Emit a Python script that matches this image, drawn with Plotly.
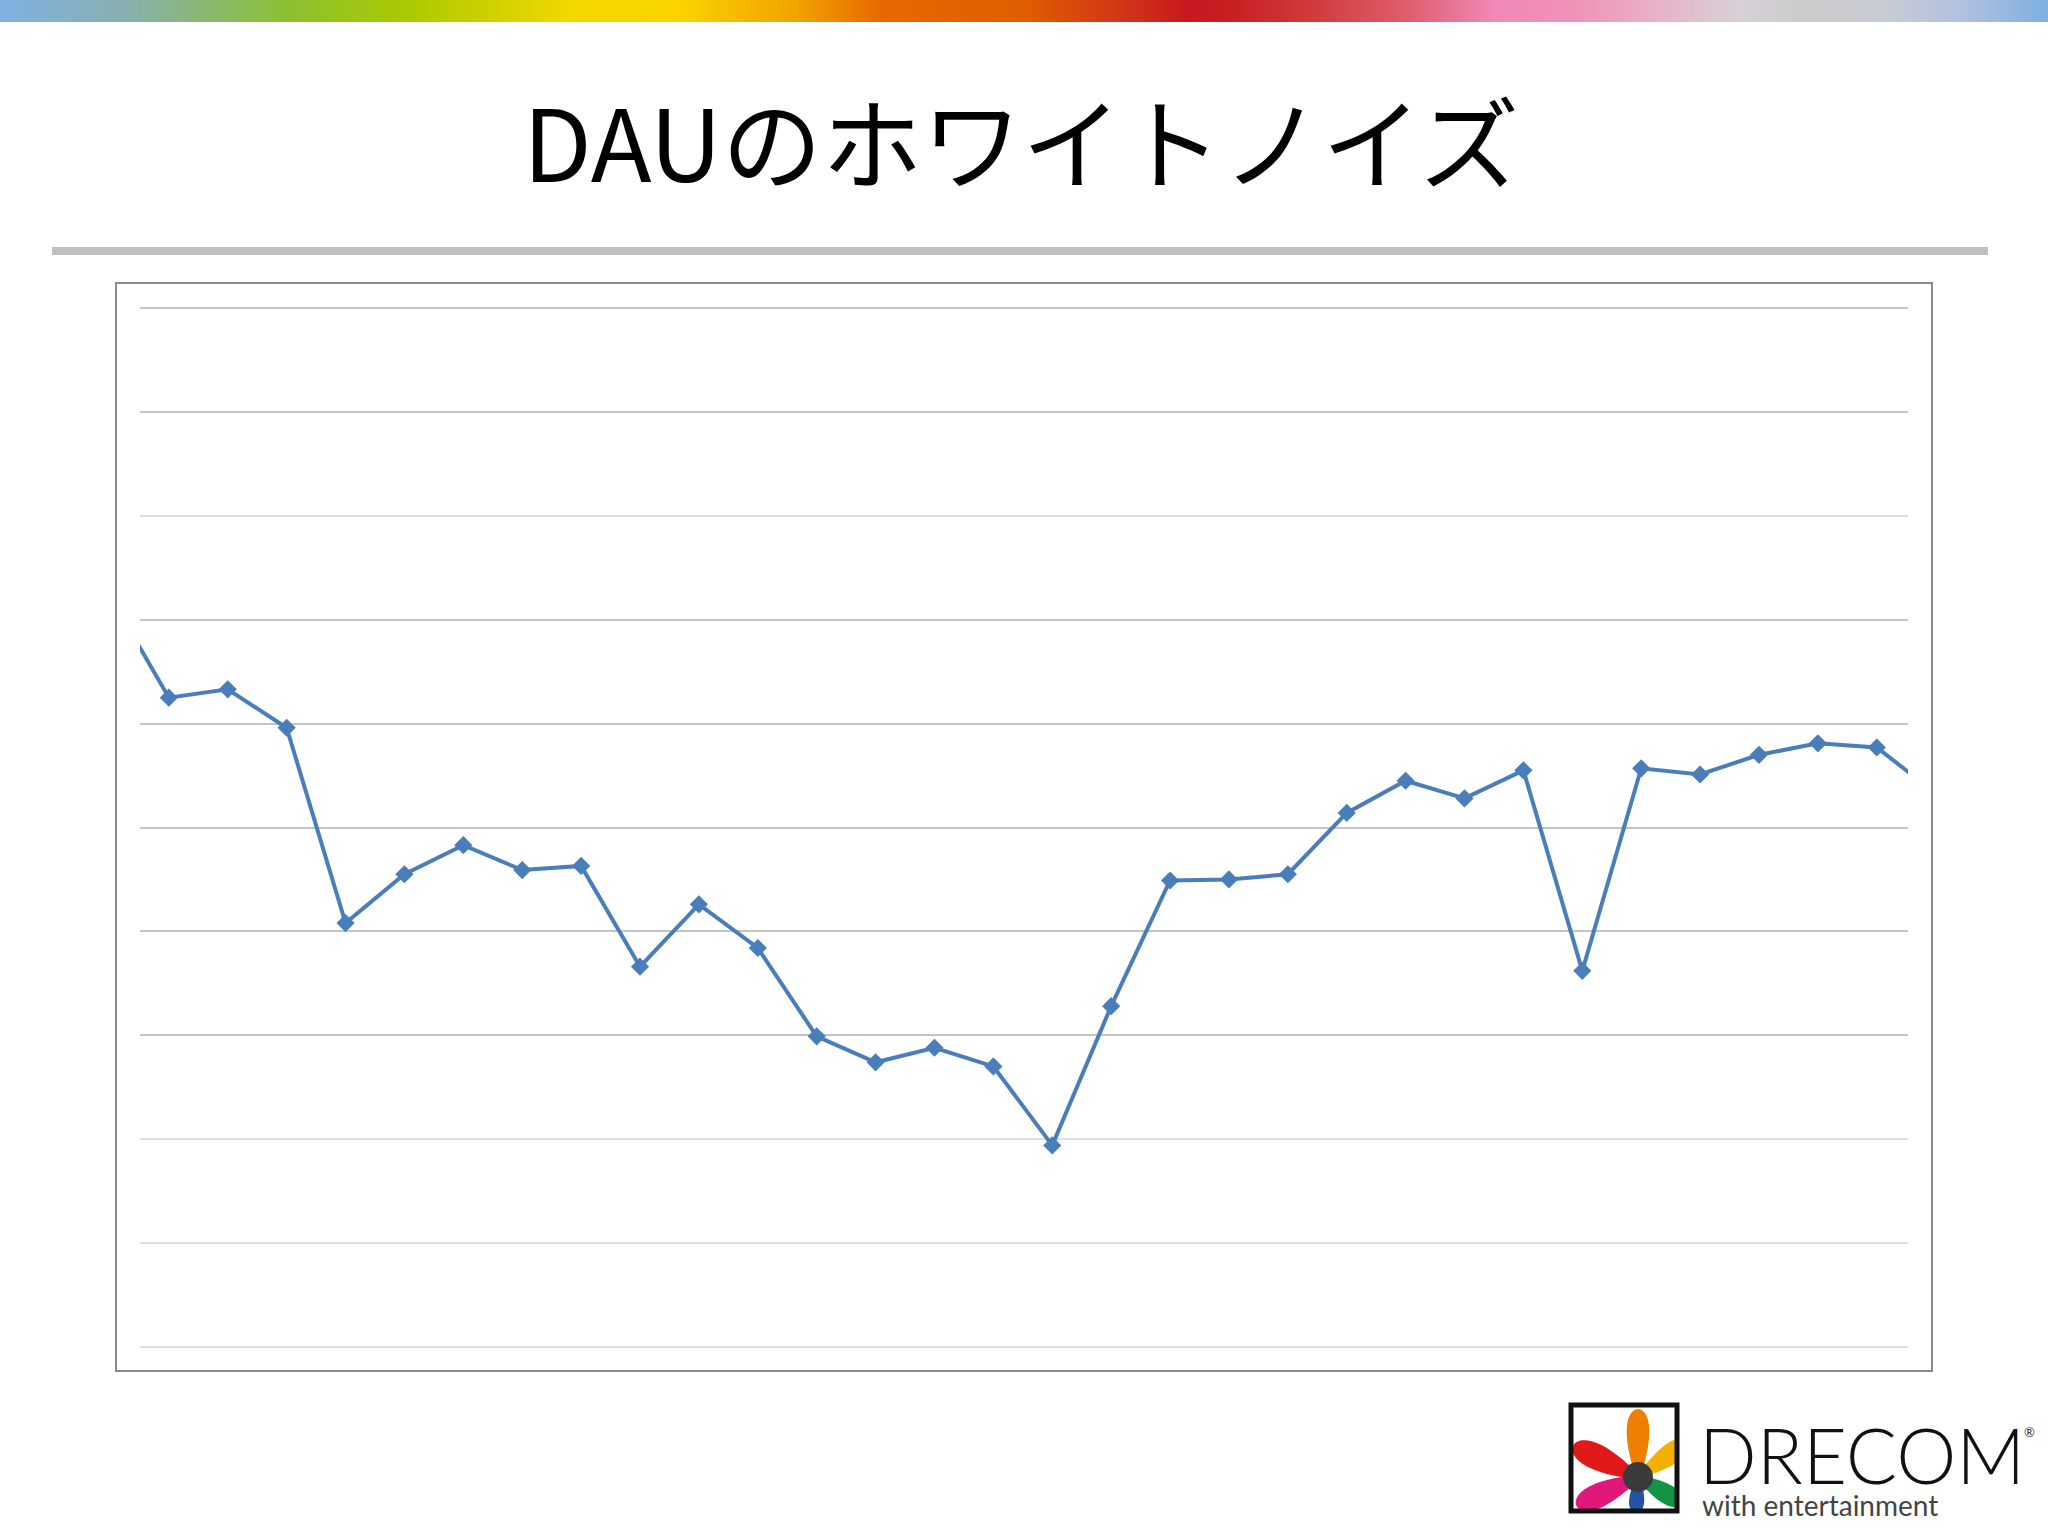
import numpy as np
import plotly.graph_objects as go

# ---- data (unlabeled axis, gridline units) ----
day_index = list(range(-1, 31))
dau_values = [7.23, 6.25, 6.33, 5.96, 4.08, 4.55, 4.83, 4.59, 4.63, 3.66,
              4.26, 3.84, 2.99, 2.74, 2.88, 2.70, 1.94, 3.28, 4.49, 4.50,
              4.55, 5.14, 5.45, 5.28, 5.55, 3.62, 5.57, 5.51, 5.70, 5.81,
              5.77, 5.33]
grid_dark = [3, 4, 5, 6, 7, 9, 10]
grid_light = [0, 1, 2, 8]
title_text = "DAUのホワイトノイズ"

W, H = 2048, 1536
def px(x): return x / W
def py(y): return 1 - y / H

LINE_BLUE = "#4a7ebb"

fig = go.Figure()

# main series
fig.add_trace(go.Scatter(
    x=day_index, y=dau_values, mode="lines+markers",
    line=dict(color=LINE_BLUE, width=4),
    marker=dict(symbol="diamond", size=14, color=LINE_BLUE),
    hoverinfo="skip", showlegend=False, xaxis="x", yaxis="y"))
# helper trace for lighter gridlines
fig.add_trace(go.Scatter(x=[None], y=[None], xaxis="x", yaxis="y3",
                         showlegend=False, hoverinfo="skip"))

# rainbow bar on top
bar_colors = [
    [0.00, "#80b0e0"], [0.06, "#88b0b0"], [0.14, "#8cc030"], [0.20, "#acca00"],
    [0.28, "#f4d800"], [0.33, "#fbd400"], [0.39, "#f0a000"], [0.43, "#e86800"],
    [0.50, "#e05e00"], [0.55, "#d03418"], [0.58, "#c8181f"], [0.60, "#c81e22"],
    [0.64, "#d03a3a"], [0.69, "#e06070"], [0.73, "#f088b8"], [0.77, "#f092b8"],
    [0.81, "#e8b2c8"], [0.85, "#d8d0d8"], [0.88, "#cccccc"], [0.92, "#c8ccd4"],
    [0.96, "#b0c0e0"], [1.00, "#80b0e0"]]
N = 300
fig.add_trace(go.Heatmap(z=[list(range(N))], colorscale=bar_colors,
                         zsmooth="best", showscale=False, hoverinfo="skip",
                         xaxis="x2", yaxis="y2"))

shapes = []
# chart box
shapes.append(dict(type="rect", xref="paper", yref="paper",
                   x0=px(116), x1=px(1932), y0=py(1371), y1=py(283),
                   line=dict(color="#8a8a8a", width=2), fillcolor="rgba(0,0,0,0)",
                   layer="below"))
# separator bar
shapes.append(dict(type="rect", xref="paper", yref="paper",
                   x0=px(52), x1=px(1988), y0=py(255), y1=py(247),
                   line=dict(width=0), fillcolor="#c0c0c0"))

# logo petals
C = (1638, 1477)
def petal(tip, a, b, dist, color):
    v = np.array(tip, float) - np.array(C, float)
    L = np.hypot(*v); u = v / L; n = np.array([-u[1], u[0]])
    ctr = np.array(C, float) + u * dist
    t = np.linspace(0, 2 * np.pi, 60)
    s = np.cos(t); w = b * np.sin(t) * (0.7 + 0.3 * s)
    pts = [ctr + u * a * si + n * wi for si, wi in zip(s, w)]
    path = "M " + " L ".join(f"{px(p[0]):.5f},{py(p[1]):.5f}" for p in pts) + " Z"
    return dict(type="path", xref="paper", yref="paper", path=path,
                fillcolor=color, line=dict(width=0))

shapes += [
    petal((1638, 1410), 34, 15, 34, "#ee7f00"),
    petal((1576, 1447), 36, 17, 36, "#e01a1a"),
    petal((1682, 1446), 30, 14, 32, "#f4b000"),
    petal((1576, 1506), 34, 16, 34, "#e0187a"),
    petal((1680, 1502), 26, 13, 26, "#129444"),
    petal((1636, 1512), 18, 10, 18, "#2452a4"),
]
r = 15
shapes.append(dict(type="circle", xref="paper", yref="paper",
                   x0=px(C[0] - r), x1=px(C[0] + r), y0=py(C[1] + r), y1=py(C[1] - r),
                   fillcolor="#3a3a3a", line=dict(width=0)))
# cover overflow of petals outside box, then draw box
for (xa, xb, ya, yb) in [(1560, 1572, 1395, 1525), (1676, 1692, 1395, 1525),
                         (1560, 1692, 1510, 1525), (1560, 1692, 1395, 1406)]:
    shapes.append(dict(type="rect", xref="paper", yref="paper",
                       x0=px(xa), x1=px(xb), y0=py(yb), y1=py(ya),
                       fillcolor="white", line=dict(width=0)))
shapes.append(dict(type="rect", xref="paper", yref="paper",
                   x0=px(1571), x1=px(1677), y0=py(1511), y1=py(1405),
                   line=dict(color="#111111", width=5), fillcolor="rgba(0,0,0,0)"))

annotations = [
    dict(text=title_text, x=px(1021), y=py(138), xref="paper", yref="paper",
         showarrow=False, xanchor="center", yanchor="middle",
         font=dict(family="Noto Sans CJK JP", size=100, color="#000000")),
    dict(text="DRECOM", x=px(1697), y=py(1454), xref="paper", yref="paper",
         showarrow=False, xanchor="left", yanchor="middle",
         font=dict(family="Lato", size=76, color="#111111", weight=300)),
    dict(text="®", x=px(2029), y=py(1432), xref="paper", yref="paper",
         showarrow=False, xanchor="center", yanchor="middle",
         font=dict(family="Lato", size=13, color="#333333")),
    dict(text="with entertainment", x=px(1700), y=py(1505), xref="paper", yref="paper",
         showarrow=False, xanchor="left", yanchor="middle",
         font=dict(family="Lato", size=28, color="#444444")),
]

fig.update_layout(
    width=W, height=H, margin=dict(l=0, r=0, t=0, b=0),
    paper_bgcolor="white", plot_bgcolor="rgba(0,0,0,0)",
    showlegend=False, shapes=shapes, annotations=annotations,
    xaxis=dict(domain=[px(140), px(1908)], range=[-0.49, 29.53],
               showgrid=False, zeroline=False, showticklabels=False,
               showline=False, ticks=""),
    yaxis=dict(domain=[py(1349), py(306)], range=[-0.02, 10.02],
               tickvals=grid_dark, showgrid=True, gridcolor="#c4c4c4", gridwidth=2,
               zeroline=False, showticklabels=False, showline=False, ticks=""),
    yaxis3=dict(domain=[py(1349), py(306)], range=[-0.02, 10.02], overlaying="y",
                anchor="x", tickvals=grid_light, showgrid=True,
                gridcolor="#dedede", gridwidth=2, zeroline=False,
                showticklabels=False, showline=False, ticks=""),
    xaxis2=dict(domain=[0, 1], anchor="y2", visible=False),
    yaxis2=dict(domain=[py(22), 1], anchor="x2", visible=False),
)

fig.write_html("out.html", config={"displayModeBar": False},
               post_script="document.body.style.margin='0px';document.body.style.overflow='hidden';")
